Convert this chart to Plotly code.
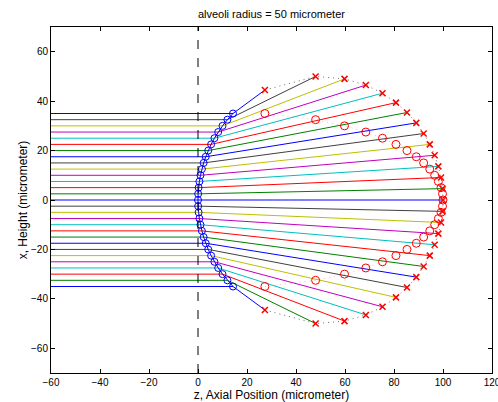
import plotly.graph_objects as go

# Incident ray heights (micrometer), bottom to top
heights = [-35, -32.5, -30, -27.5, -25, -22.5, -20, -17.5, -15, -12.5, -10, -7.5, -5, -2.5, 0,
           2.5, 5, 7.5, 10, 12.5, 15, 17.5, 20, 22.5, 25, 27.5, 30, 32.5, 35]
# Axial position where each ray meets the alveolus wall (blue circles)
entry_x = [14.29, 12.00, 10.00, 8.24, 6.70, 5.35, 4.17, 3.16, 2.30, 1.59, 1.01, 0.57, 0.25, 0.06, 0.00,
           0.06, 0.25, 0.57, 1.01, 1.59, 2.30, 3.16, 4.17, 5.35, 6.70, 8.24, 10.00, 12.00, 14.29]
# Exit points on the far wall (red x)
exit_x = [27.3, 48.0, 59.8, 68.5, 75.3, 80.8, 85.3, 89.1, 92.1, 94.6, 96.6, 98.1, 99.2, 99.8, 100.0,
          99.8, 99.2, 98.1, 96.6, 94.6, 92.1, 89.1, 85.3, 80.8, 75.3, 68.5, 59.8, 48.0, 27.3]
exit_y = [-44.5, -50.0, -49.0, -46.5, -43.2, -39.4, -35.4, -31.2, -26.9, -22.5, -18.1, -13.6, -9.1, -4.6, 0.0,
          4.6, 9.1, 13.6, 18.1, 22.5, 26.9, 31.2, 35.4, 39.4, 43.2, 46.5, 49.0, 50.0, 44.5]
x_start = -60

colors = ["rgb(0,0,255)", "rgb(0,128,0)", "rgb(255,0,0)", "rgb(0,191,191)",
          "rgb(191,0,191)", "rgb(191,191,0)", "rgb(64,64,64)"]

FONT = "Liberation Sans, Arial, sans-serif"

fig = go.Figure()

for k, h in enumerate(heights):
    fig.add_trace(go.Scatter(
        x=[x_start, entry_x[k], exit_x[k]], y=[h, h, exit_y[k]],
        mode="lines", line=dict(color=colors[k % 7], width=1),
        hoverinfo="skip", showlegend=False))

# dotted wall through exit points
fig.add_trace(go.Scatter(x=exit_x, y=exit_y, mode="lines",
                         line=dict(color="rgb(110,110,110)", width=1, dash="1px,4px"), showlegend=False))
# red circles at (exit x, incident height), dotted red line
fig.add_trace(go.Scatter(x=exit_x, y=heights, mode="lines+markers",
                         line=dict(color="rgba(255,0,0,0.3)", width=1, dash="1px,4px"),
                         marker=dict(symbol="circle-open", size=8, color="red", line=dict(width=1)),
                         showlegend=False))
# red x at exit
fig.add_trace(go.Scatter(x=exit_x, y=exit_y, mode="markers",
                         marker=dict(symbol="x-thin-open", size=6, color="red", line=dict(width=1.5, color="red")),
                         showlegend=False))
# blue circles at entry
fig.add_trace(go.Scatter(x=entry_x, y=heights, mode="lines+markers",
                         line=dict(color="blue", width=1),
                         marker=dict(symbol="circle-open", size=7, color="blue", line=dict(width=1)),
                         showlegend=False))

fig.add_shape(type="line", x0=0, x1=0, y0=-70, y1=70, xref="x", yref="y",
              line=dict(color="black", width=1, dash="dash"))

axis_common = dict(showgrid=False, zeroline=False, showline=True, linecolor="black", linewidth=1,
                   mirror="ticks", ticks="inside", ticklen=4, tickcolor="black", automargin=False,
                   ticklabeloverflow="allow",
                   tickfont=dict(family=FONT, size=10, color="black"))

fig.update_xaxes(range=[-60, 120], tickvals=[-60, -40, -20, 0, 20, 40, 60, 80, 100, 120],
                 title=dict(text="z, Axial Position (micrometer)", standoff=0,
                            font=dict(family=FONT, size=12, color="black")),
                 **axis_common)
fig.update_yaxes(range=[-70, 70], tickvals=[-60, -40, -20, 0, 20, 40, 60],
                 title=dict(text="x, Height (micrometer)", standoff=0,
                            font=dict(family=FONT, size=12, color="black")),
                 **axis_common)

fig.update_layout(
    width=498, height=402,
    margin=dict(l=51, r=6, t=27, b=29, autoexpand=False),
    paper_bgcolor="white", plot_bgcolor="white",
    title=dict(text="alveoli radius = 50 micrometer", x=0.545, xanchor="center", y=0.975, yanchor="top",
               font=dict(family=FONT, size=11, color="black")),
    showlegend=False,
)

fig.write_html("out.html", config={"displayModeBar": False},
               post_script="document.body.style.margin='0';")
